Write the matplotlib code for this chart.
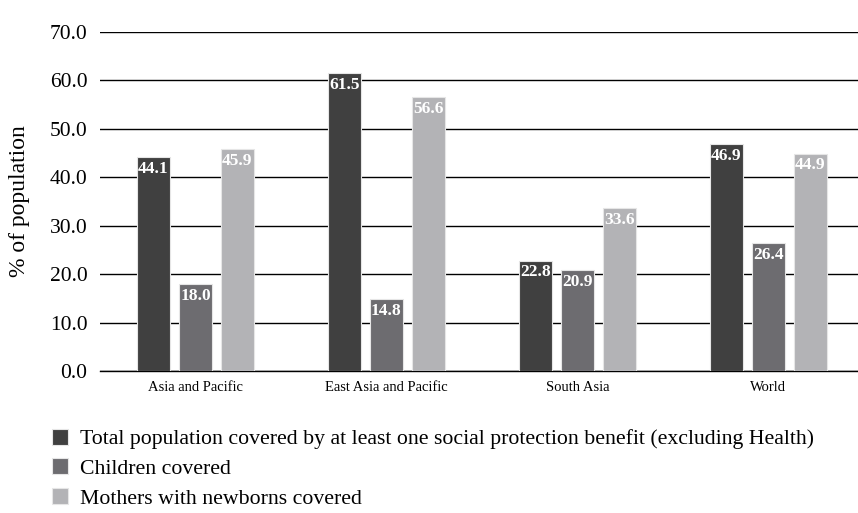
import matplotlib.pyplot as plt
import numpy as np

regions = ["Asia and Pacific", "East Asia and Pacific", "South Asia", "World"]
total = [44.1, 61.5, 22.8, 46.9]
children = [18.0, 14.8, 20.9, 26.4]
mothers = [45.9, 56.6, 33.6, 44.9]
series_names = ["Total population covered by at least one social protection benefit (excluding Health)",
                "Children covered",
                "Mothers with newborns covered"]
colors = ["#404040", "#6d6c70", "#b3b3b6"]

plt.rcParams['font.family'] = ['Liberation Serif', 'DejaVu Serif']

fig = plt.figure(figsize=(8.58, 5.13), dpi=100)
ax = fig.add_axes([100/858, 1-371/513, 1-100/858, (371-32)/513])

x = np.arange(len(regions))
w = 0.173
off = 0.22
handles = []
for k, (vals, c) in enumerate(zip([total, children, mothers], colors)):
    bars = ax.bar(x + (k-1)*off, vals, w, color=c, edgecolor="#e6e6e6", linewidth=0.8, zorder=3)
    handles.append(bars)
    for b, v in zip(bars, vals):
        ax.annotate("%.1f" % v, (b.get_x()+b.get_width()/2, v), xytext=(0, -8.5),
                    textcoords="offset points", ha="center", va="center",
                    color="white", fontweight="bold", fontsize=12.5, zorder=4)

ax.set_ylim(0, 70)
ax.set_xlim(-0.5, 3.47)
ax.set_yticks(np.arange(0, 71, 10))
ax.set_yticklabels(["%.1f" % t for t in np.arange(0, 71, 10)], fontsize=15.5)
ax.set_xticks(x)
ax.set_xticklabels(regions, fontsize=10.5)
ax.tick_params(axis="y", length=0, pad=9)
ax.tick_params(axis="x", length=0, pad=7)
ax.yaxis.grid(True, color="black", linewidth=1.0, zorder=0)
for s in ["top", "right", "left"]:
    ax.spines[s].set_visible(False)
ax.spines["bottom"].set_linewidth(1.0)
ax.set_ylabel("% of population", fontsize=17)
ax.yaxis.set_label_coords(-70/758, 0.5)

fig.legend(handles, series_names, loc="upper left", bbox_to_anchor=(43/858, 1-420/513),
           frameon=False, fontsize=15.7, handlelength=0.75, handleheight=0.75,
           handletextpad=0.55, labelspacing=0.42, borderaxespad=0)

fig.savefig("out.png", dpi=100)
